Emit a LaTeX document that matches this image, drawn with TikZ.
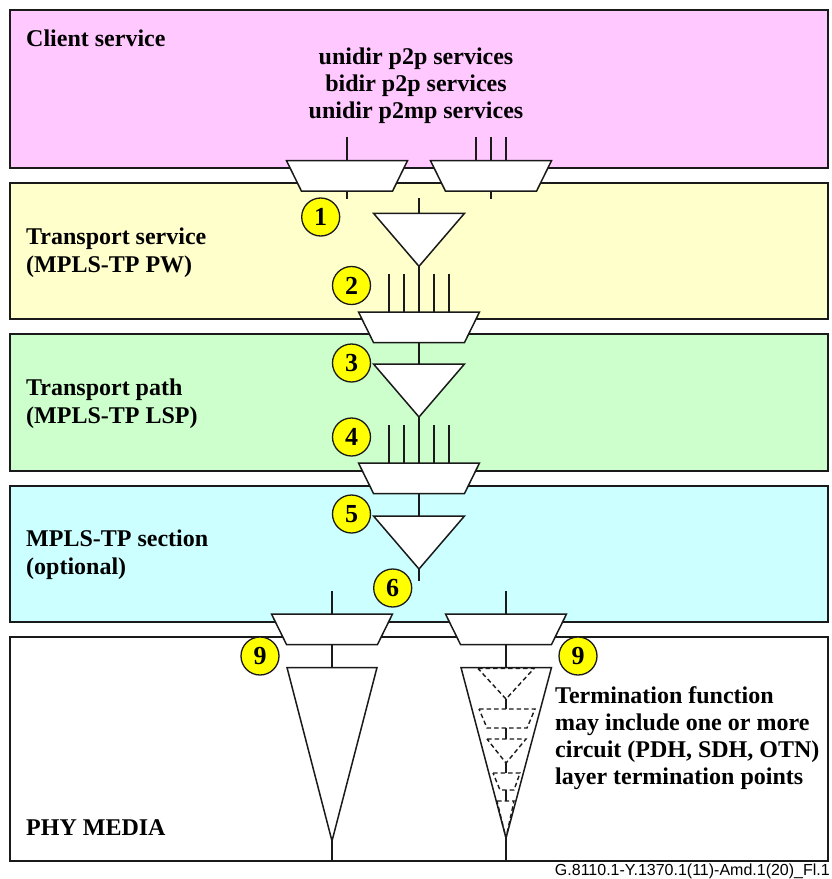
\documentclass[tikz,border=0pt]{standalone}
\usepackage{fontspec}
\setmainfont{Liberation Serif}
\setsansfont{Liberation Sans}
\definecolor{linecol}{HTML}{1A1A1A}
\definecolor{pinkbg}{HTML}{FFC8FF}
\definecolor{yellowbg}{HTML}{FFFFCC}
\definecolor{greenbg}{HTML}{CCFFCC}
\definecolor{cyanbg}{HTML}{CCFFFF}
\definecolor{badge}{HTML}{FFFF00}
\tikzset{
  layerbox/.style={draw=linecol,line width=1.4pt},
  conn/.style={draw=linecol,line width=1.4pt},
  func/.style={draw=linecol,fill=white,line width=1.5pt,line join=miter},
  dashfunc/.style={draw=linecol,line width=1.4pt,dash pattern=on 4.5pt off 3pt},
  dashconn/.style={draw=linecol,line width=1.4pt},
  numbadge/.style={circle,draw=linecol,fill=badge,line width=1.3pt,minimum size=38pt,inner sep=0pt,font=\bfseries\fontsize{26}{26}\selectfont},
  title/.style={anchor=west,inner sep=0pt,align=left,font=\bfseries\fontsize{24}{28}\selectfont},
  centered/.style={inner sep=0pt,align=center,font=\bfseries\fontsize{24}{27}\selectfont},
  notetext/.style={anchor=west,inner sep=0pt,align=left,font=\bfseries\fontsize{24}{27}\selectfont},
}
% trapezoid: name, centre x, top y
\newcommand{\adapt}[3]{%
  \draw[func] ({#2-60.5},#3) -- ({#2+60.5},#3) -- ({#2+45.5},{#3+30.5}) -- ({#2-45.5},{#3+30.5}) -- cycle;
  \coordinate (#1-t) at (#2,#3);
  \coordinate (#1-b) at (#2,{#3+30.5});
}
% triangle: name, centre x, top y
\newcommand{\termin}[3]{%
  \draw[func] ({#2-45.5},#3) -- ({#2+45.5},#3) -- (#2,{#3+53}) -- cycle;
  \coordinate (#1-t) at (#2,#3);
  \coordinate (#1-b) at (#2,{#3+53});
}
\begin{document}
\begin{tikzpicture}[x=1pt,y=-1pt]
\useasboundingbox (0,0) rectangle (831,879);
\draw[layerbox,fill=pinkbg] (10,10) rectangle (828,168);
\draw[layerbox,fill=yellowbg] (10,183) rectangle (828,319);
\draw[layerbox,fill=greenbg] (10,334) rectangle (828,471);
\draw[layerbox,fill=cyanbg] (10,486) rectangle (828,622);
\draw[layerbox,fill=white] (10,637) rectangle (828,861);

\node[title] (client) at (26,38) {Client service};
\node[centered] (svc) at (416,85.5) {unidir p2p services\\bidir p2p services\\unidir p2mp services};
\node[title] (tsvc) at (26,253) {Transport service\\(MPLS-TP PW)};
\node[title] (tpath) at (26,404) {Transport path\\(MPLS-TP LSP)};
\node[title] (sect) at (26,555) {MPLS-TP section\\(optional)};
\node[title] (phy) at (26,828) {PHY MEDIA};
\node[notetext] (note) at (555,738) {Termination function\\may include one or more\\circuit (PDH, SDH, OTN)\\layer termination points};
\node[anchor=east,inner sep=0pt,font=\sffamily\fontsize{16}{17}\selectfont] (fig) at (830,871) {G.8110.1-Y.1370.1(11)-Amd.1(20)\_Fl.1};

% free ends
\coordinate (a1) at (347,137);
\coordinate (a2) at (476,137);
\coordinate (a3) at (491,137);
\coordinate (a4) at (506,137);
\coordinate (a1t) at (347,160.7);
\coordinate (a2t) at (476,160.7);
\coordinate (a3t) at (491,160.7);
\coordinate (a4t) at (506,160.7);
\coordinate (a1e) at (347,199);
\coordinate (a3e) at (491,199);
\coordinate (p1) at (419,198);

\coordinate (b1) at (389,274); \coordinate (b1e) at (389,312);
\coordinate (b2) at (404,274); \coordinate (b2e) at (404,312);
\coordinate (b4) at (434,274); \coordinate (b4e) at (434,312);
\coordinate (b5) at (449,274); \coordinate (b5e) at (449,312);

\coordinate (c1) at (389,425); \coordinate (c1e) at (389,463);
\coordinate (c2) at (404,425); \coordinate (c2e) at (404,463);
\coordinate (c4) at (434,425); \coordinate (c4e) at (434,463);
\coordinate (c5) at (449,425); \coordinate (c5e) at (449,463);

\coordinate (s1) at (419,581);
\coordinate (l1) at (332,591);
\coordinate (l2) at (506,591);
\coordinate (g1) at (332,861);
\coordinate (g2) at (506,861);

% connectors under the functions
\draw[conn] (a1) -- (a1t);
\draw[conn] (a2) -- (a2t);
\draw[conn] (a3) -- (a3t);
\draw[conn] (a4) -- (a4t);

\adapt{ta}{347}{160.7}
\adapt{tb}{491}{160.7}
\draw[conn] (ta-b) -- (a1e);
\draw[conn] (tb-b) -- (a3e);

\termin{p}{419}{213.3}
\adapt{pm}{419}{312}
\termin{q}{419}{364}
\adapt{qm}{419}{463}
\termin{r}{419}{516}
\adapt{rl}{332}{614}
\adapt{rr}{506}{614}

\draw[conn] (p1) -- (p-t);
\draw[conn] (p-b) -- (pm-t);
\draw[conn] (b1) -- (b1e);
\draw[conn] (b2) -- (b2e);
\draw[conn] (b4) -- (b4e);
\draw[conn] (b5) -- (b5e);
\draw[conn] (pm-b) -- (q-t);
\draw[conn] (q-b) -- (qm-t);
\draw[conn] (c1) -- (c1e);
\draw[conn] (c2) -- (c2e);
\draw[conn] (c4) -- (c4e);
\draw[conn] (c5) -- (c5e);
\draw[conn] (qm-b) -- (r-t);
\draw[conn] (r-b) -- (s1);
\draw[conn] (l1) -- (rl-t);
\draw[conn] (l2) -- (rr-t);

% long termination functions
\draw[func] (287,667.5) -- (377,667.5) -- (332,841) -- cycle;
\coordinate (ll-t) at (332,667.5);
\coordinate (ll-b) at (332,841);
\draw[func] (461,667.5) -- (551.5,667.5) -- (506,838) -- cycle;
\coordinate (lr-t) at (506,667.5);
\coordinate (lr-b) at (506,838);
\draw[conn] (rl-b) -- (ll-t);
\draw[conn] (ll-b) -- (g1);
\draw[conn] (rr-b) -- (lr-t);
\draw[conn] (lr-b) -- (g2);

% nested dashed functions
\draw[dashfunc] (478,668.5) -- (534,668.5) -- (506,699) -- cycle;
\draw[dashfunc] (479,709) -- (535,709) -- (527,728) -- (487,728) -- cycle;
\draw[dashfunc] (487,739) -- (526,739) -- (506,763) -- cycle;
\draw[dashfunc] (493,773) -- (520,773) -- (514,790) -- (500,790) -- cycle;
\draw[dashfunc] (497,801) -- (514,801) -- (506,838) -- cycle;
\coordinate (d1) at (506,699);
\coordinate (d2) at (506,709);
\coordinate (d3) at (506,728);
\coordinate (d4) at (506,739);
\coordinate (d5) at (506,763);
\coordinate (d6) at (506,773);
\coordinate (d7) at (506,790);
\coordinate (d8) at (506,801);
\draw[dashconn] (d1) -- (d2);
\draw[dashconn] (d3) -- (d4);
\draw[dashconn] (d5) -- (d6);
\draw[dashconn] (d7) -- (d8);

% numbered badges
\node[numbadge] (n1) at (320.7,217) {1};
\node[numbadge] (n2) at (351.5,285.5) {2};
\node[numbadge] (n3) at (351.5,363) {3};
\node[numbadge] (n4) at (351.5,437) {4};
\node[numbadge] (n5) at (351.5,514) {5};
\node[numbadge] (n6) at (392.7,588) {6};
\node[numbadge] (n9a) at (260,656) {9};
\node[numbadge] (n9b) at (578,656) {9};
\end{tikzpicture}
\end{document}
